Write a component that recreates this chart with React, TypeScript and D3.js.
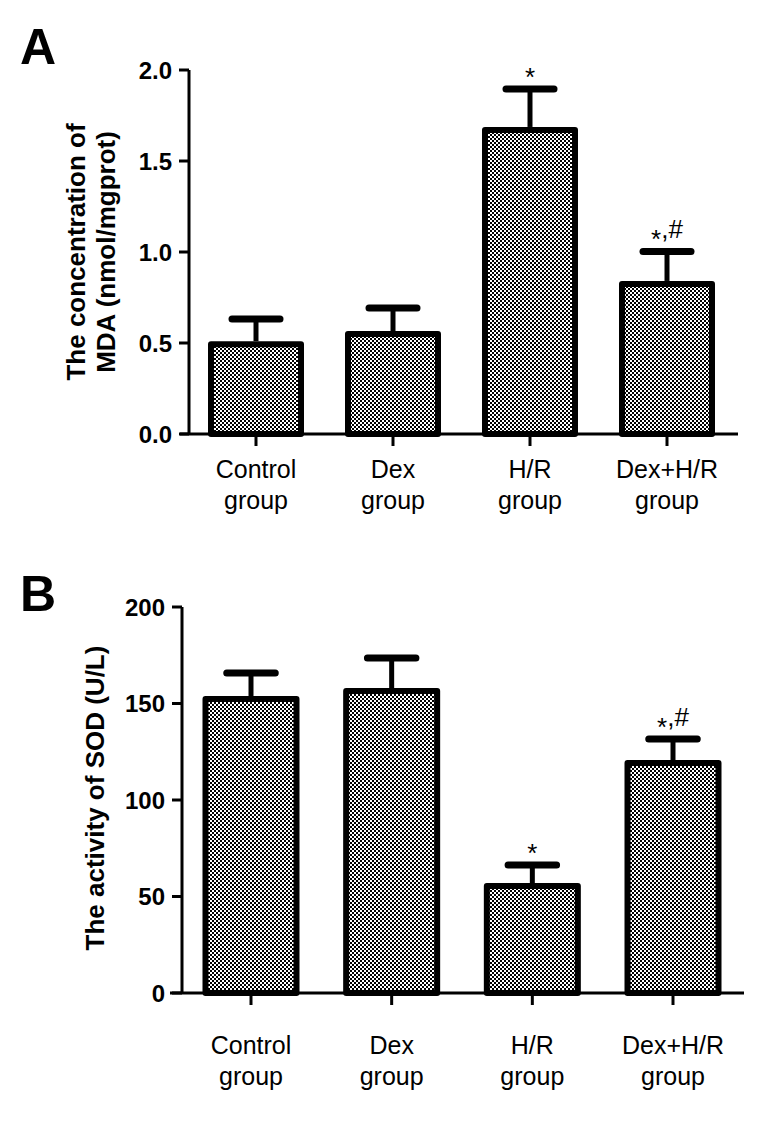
import React from "react";
import * as d3 from "d3";

const categories = ["Control group", "Dex group", "H/R group", "Dex+H/R group"];
const mdaMean = [0.51, 0.566, 1.687, 0.841];
const mdaErr = [0.632, 0.692, 1.896, 1.003];
const mdaMarks = ["", "", "*", "*,#"];
const mdaTicks = [0, 0.5, 1.0, 1.5, 2.0];

const sodMean = [153.9, 158.0, 57.0, 120.7];
const sodErr = [165.8, 173.6, 66.3, 131.6];
const sodMarks = ["", "", "*", "*,#"];
const sodTicks = [0, 50, 100, 150, 200];

const FONT = "Arial, 'Liberation Sans', sans-serif";

type PanelProps = {
  means: number[];
  errs: number[];
  marks: string[];
  ticks: number[];
  fmt: (v: number) => string;
  yMax: number;
  yTop: number;
  yBottom: number;
  axisX: number;
  xAxisStart: number;
  xAxisEnd: number;
  firstCenter: number;
  lastCenter: number;
  barWidth: number;
  labelY: number;
};

function Mark({ x, y, text }: { x: number; y: number; text: string }) {
  // asterisks in the reference sit lower than the default glyph
  const parts: React.ReactNode[] = [];
  let shifted = false;
  text.split("").forEach((ch, k) => {
    if (ch === "*") {
      parts.push(
        <tspan key={k} dy={shifted ? 0 : 10}>
          {ch}
        </tspan>
      );
      shifted = true;
    } else {
      parts.push(
        <tspan key={k} dy={shifted ? -10 : 0}>
          {ch}
        </tspan>
      );
      shifted = false;
    }
  });
  return (
    <text x={x} y={y} textAnchor="middle" fontFamily={FONT} fontSize={26} fill="#000">
      {parts}
    </text>
  );
}

function Panel(p: PanelProps) {
  const y = d3.scaleLinear().domain([0, p.yMax]).range([p.yBottom, p.yTop]);
  const x = d3.scalePoint<string>().domain(categories).range([p.firstCenter, p.lastCenter]);
  const capW = p.barWidth * 0.5;
  return (
    <g>
      {categories.map((c, i) => {
        const cx = x(c)!;
        const top = y(p.means[i]);
        const errTop = y(p.errs[i]);
        return (
          <g key={c}>
            <line x1={cx} x2={cx} y1={top} y2={errTop} stroke="#000" strokeWidth={5} />
            <line
              x1={cx - capW / 2}
              x2={cx + capW / 2}
              y1={errTop}
              y2={errTop}
              stroke="#000"
              strokeWidth={7}
              strokeLinecap="round"
            />
            <rect
              x={cx - p.barWidth / 2 + 3}
              y={top + 3}
              width={p.barWidth - 6}
              height={p.yBottom - top - 3}
              fill="url(#checker)"
              stroke="#000"
              strokeWidth={6}
              strokeLinejoin="round"
            />
            {p.marks[i] && <Mark x={cx} y={errTop - 13} text={p.marks[i]} />}
          </g>
        );
      })}
      <line x1={p.axisX} x2={p.axisX} y1={p.yTop} y2={p.yBottom} stroke="#000" strokeWidth={3} />
      {p.ticks.map((t) => (
        <g key={t}>
          <line x1={p.axisX - 10} x2={p.axisX} y1={y(t)} y2={y(t)} stroke="#000" strokeWidth={3} />
          <text
            x={p.axisX - 17}
            y={y(t)}
            dy="0.36em"
            textAnchor="end"
            fontFamily={FONT}
            fontWeight="bold"
            fontSize={24}
            fill="#000"
          >
            {p.fmt(t)}
          </text>
        </g>
      ))}
      <line x1={p.xAxisStart} x2={p.xAxisEnd} y1={p.yBottom} y2={p.yBottom} stroke="#000" strokeWidth={3} />
      {categories.map((c) => {
        const cx = x(c)!;
        const parts = c.split(" ");
        return (
          <g key={c}>
            <line x1={cx} x2={cx} y1={p.yBottom} y2={p.yBottom + 12} stroke="#000" strokeWidth={3} />
            <text x={cx} y={p.labelY} textAnchor="middle" fontFamily={FONT} fontSize={25} fill="#000">
              {parts[0]}
            </text>
            <text x={cx} y={p.labelY + 31} textAnchor="middle" fontFamily={FONT} fontSize={25} fill="#000">
              {parts[1]}
            </text>
          </g>
        );
      })}
    </g>
  );
}

export default function App() {
  return (
    <svg
      width={771}
      height={1122}
      style={{ display: "block", position: "absolute", left: 0, top: 0, background: "#fff" }}
    >
      <defs>
        <pattern id="checker" patternUnits="userSpaceOnUse" width={4} height={4}>
          <rect x={0} y={0} width={4} height={4} fill="#fff" />
          <rect x={0} y={0} width={2} height={2} fill="#000" />
          <rect x={2} y={2} width={2} height={2} fill="#000" />
        </pattern>
      </defs>
      <rect width={771} height={1122} fill="#fff" />

      <text x={20} y={64} fontFamily={FONT} fontWeight="bold" fontSize={50} fill="#000">
        A
      </text>
      <text x={20} y={611} fontFamily={FONT} fontWeight="bold" fontSize={50} fill="#000">
        B
      </text>

      <g transform="translate(85,252) rotate(-90)">
        <text textAnchor="middle" fontFamily={FONT} fontWeight="bold" fontSize={26} fill="#000">
          The concentration of
        </text>
      </g>
      <g transform="translate(115,252) rotate(-90)">
        <text textAnchor="middle" fontFamily={FONT} fontWeight="bold" fontSize={26} fill="#000">
          MDA (nmol/mgprot)
        </text>
      </g>
      <g transform="translate(104,798) rotate(-90)">
        <text textAnchor="middle" fontFamily={FONT} fontWeight="bold" fontSize={26} fill="#000">
          The activity of SOD (U/L)
        </text>
      </g>

      <Panel
        means={mdaMean}
        errs={mdaErr}
        marks={mdaMarks}
        ticks={mdaTicks}
        fmt={(v) => v.toFixed(1)}
        yMax={2}
        yTop={70}
        yBottom={434}
        axisX={189}
        xAxisStart={180}
        xAxisEnd={738}
        firstCenter={256}
        lastCenter={667}
        barWidth={96}
        labelY={478}
      />
      <Panel
        means={sodMean}
        errs={sodErr}
        marks={sodMarks}
        ticks={sodTicks}
        fmt={(v) => String(v)}
        yMax={200}
        yTop={607}
        yBottom={993}
        axisX={182}
        xAxisStart={170}
        xAxisEnd={744}
        firstCenter={251}
        lastCenter={673}
        barWidth={97}
        labelY={1054}
      />
    </svg>
  );
}
